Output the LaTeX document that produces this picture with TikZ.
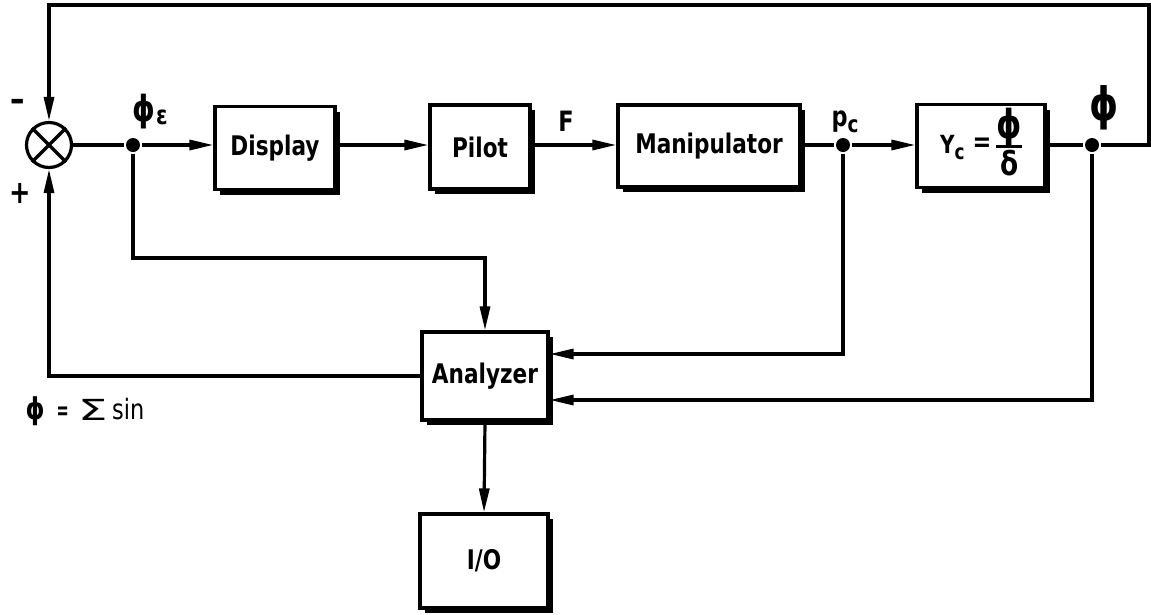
\documentclass[tikz,border=0pt]{standalone}
\usepackage{fontspec}
\setmainfont{DejaVu Sans}[FakeStretch=0.8]
\usetikzlibrary{arrows.meta,shadows}
\newcommand{\fsz}[1]{\fontsize{#1}{#1}\selectfont}
\begin{document}
\begin{tikzpicture}[x=1pt,y=-1pt,line width=3.2pt,
  txt/.style={font=\fontsize{27}{31}\selectfont\bfseries},
  blk/.style={draw,fill=white,line width=3.2pt,inner sep=0pt,txt,
    drop shadow={shadow xshift=5pt,shadow yshift=-5pt,opacity=1,fill=black}},
  arr/.style={-{Triangle[length=24pt,width=10pt]}},
  dot/.style={circle,fill=black,inner sep=0pt,minimum size=14pt},
  lbl/.style={txt,inner sep=0pt}]
\useasboundingbox (0,0) rectangle (1151,614);
% summing junction
\node[draw,circle,minimum size=45pt,inner sep=0pt,line width=3.2pt] (sum) at (49,145) {};
\draw (sum.north west) -- (sum.south east) (sum.north east) -- (sum.south west);
% blocks
\node[blk,minimum width=120pt,minimum height=83pt] (disp) at (275,148) {Display};
\node[blk,minimum width=100pt,minimum height=84pt] (pilot) at (480,147) {Pilot};
\node[blk,minimum width=182pt,minimum height=82pt] (man) at (709,146) {Manipulator};
\setlength{\arrayrulewidth}{2.6pt}
\node[blk,minimum width=128pt,minimum height=83pt] (yc) at (981,146) {\raisebox{-4pt}{\fsz{25}Y\kern0pt\raisebox{-6pt}{\fsz{21}c}}\kern8pt\raisebox{-2pt}{\fsz{28}=}\kern5pt\raisebox{-3pt}{\begin{tabular}{@{}c@{}}\fsz{40}ϕ\\[-2pt]\hline\rule{0pt}{27pt}\fsz{33}δ\end{tabular}}};
\node[blk,minimum width=126pt,minimum height=88pt] (an) at (485,376) {Analyzer};
\node[blk,minimum width=128pt,minimum height=94pt] (io) at (484,561) {I/O};
% dots
\node[dot] (pe) at (133,145) {};
\node[dot] (pc) at (843,145) {};
\node[dot] (ph) at (1092,145) {};
% main path
\draw (sum.east) -- (pe);
\draw[arr] (pe) -- (disp.west |- pe);
\draw[arr] (disp.east |- pe) -- (pilot.west |- pe);
\draw[arr] (pilot.east |- pe) -- (man.west |- pe);
\draw (man.east |- pe) -- (pc);
\draw[arr] (pc) -- (yc.west |- pc);
\draw (yc.east |- ph) -- (ph);
% feedback
\coordinate (fr) at (1149,145);
\coordinate (ft) at (1149,5);
\draw[arr] (ph) -- (fr) -- (ft) -| (sum.north);
% analyzer connections
\coordinate (k1) at (133,258);
\draw[arr] (pe) -- (k1) -| (an.north);
\coordinate (k2) at (843,354);
\draw[arr] (pc) -- (k2) -- (k2 -| an.east);
\coordinate (k3) at (1092,400);
\draw[arr] (ph) -- (k3) -- (k3 -| an.east);
\draw[arr] (an.west) -| (sum.south);
\draw[arr] (an.south) -- (io.north);
% labels
\node[lbl] (minus) at (18,105) {\fsz{36}–};
\node[lbl] (plus) at (20,193) {\fsz{32}+};
\node[lbl] (lpe) at (150,112) {{\fsz{36}ϕ}\kern1pt\raisebox{-3pt}{\fsz{26}ε}};
\node[lbl] (lF) at (566,121) {\fsz{28}F};
\node[lbl] (lpc) at (845,122) {\fsz{28}p\raisebox{-6pt}{\fsz{23}c}};
\node[lbl] (lph) at (1104,108) {\fsz{46}ϕ};
\node[lbl,anchor=west] (lsum) at (24,411) {{\fsz{30}ϕ}\kern12pt\scalebox{0.7}[1]{\fsz{26}=}\kern10pt\raisebox{-1pt}{\scalebox{2.0}[1]{\mdseries\fsz{29}Σ}}\kern4pt{\mdseries\fsz{28}sin}};
\end{tikzpicture}
\end{document}
